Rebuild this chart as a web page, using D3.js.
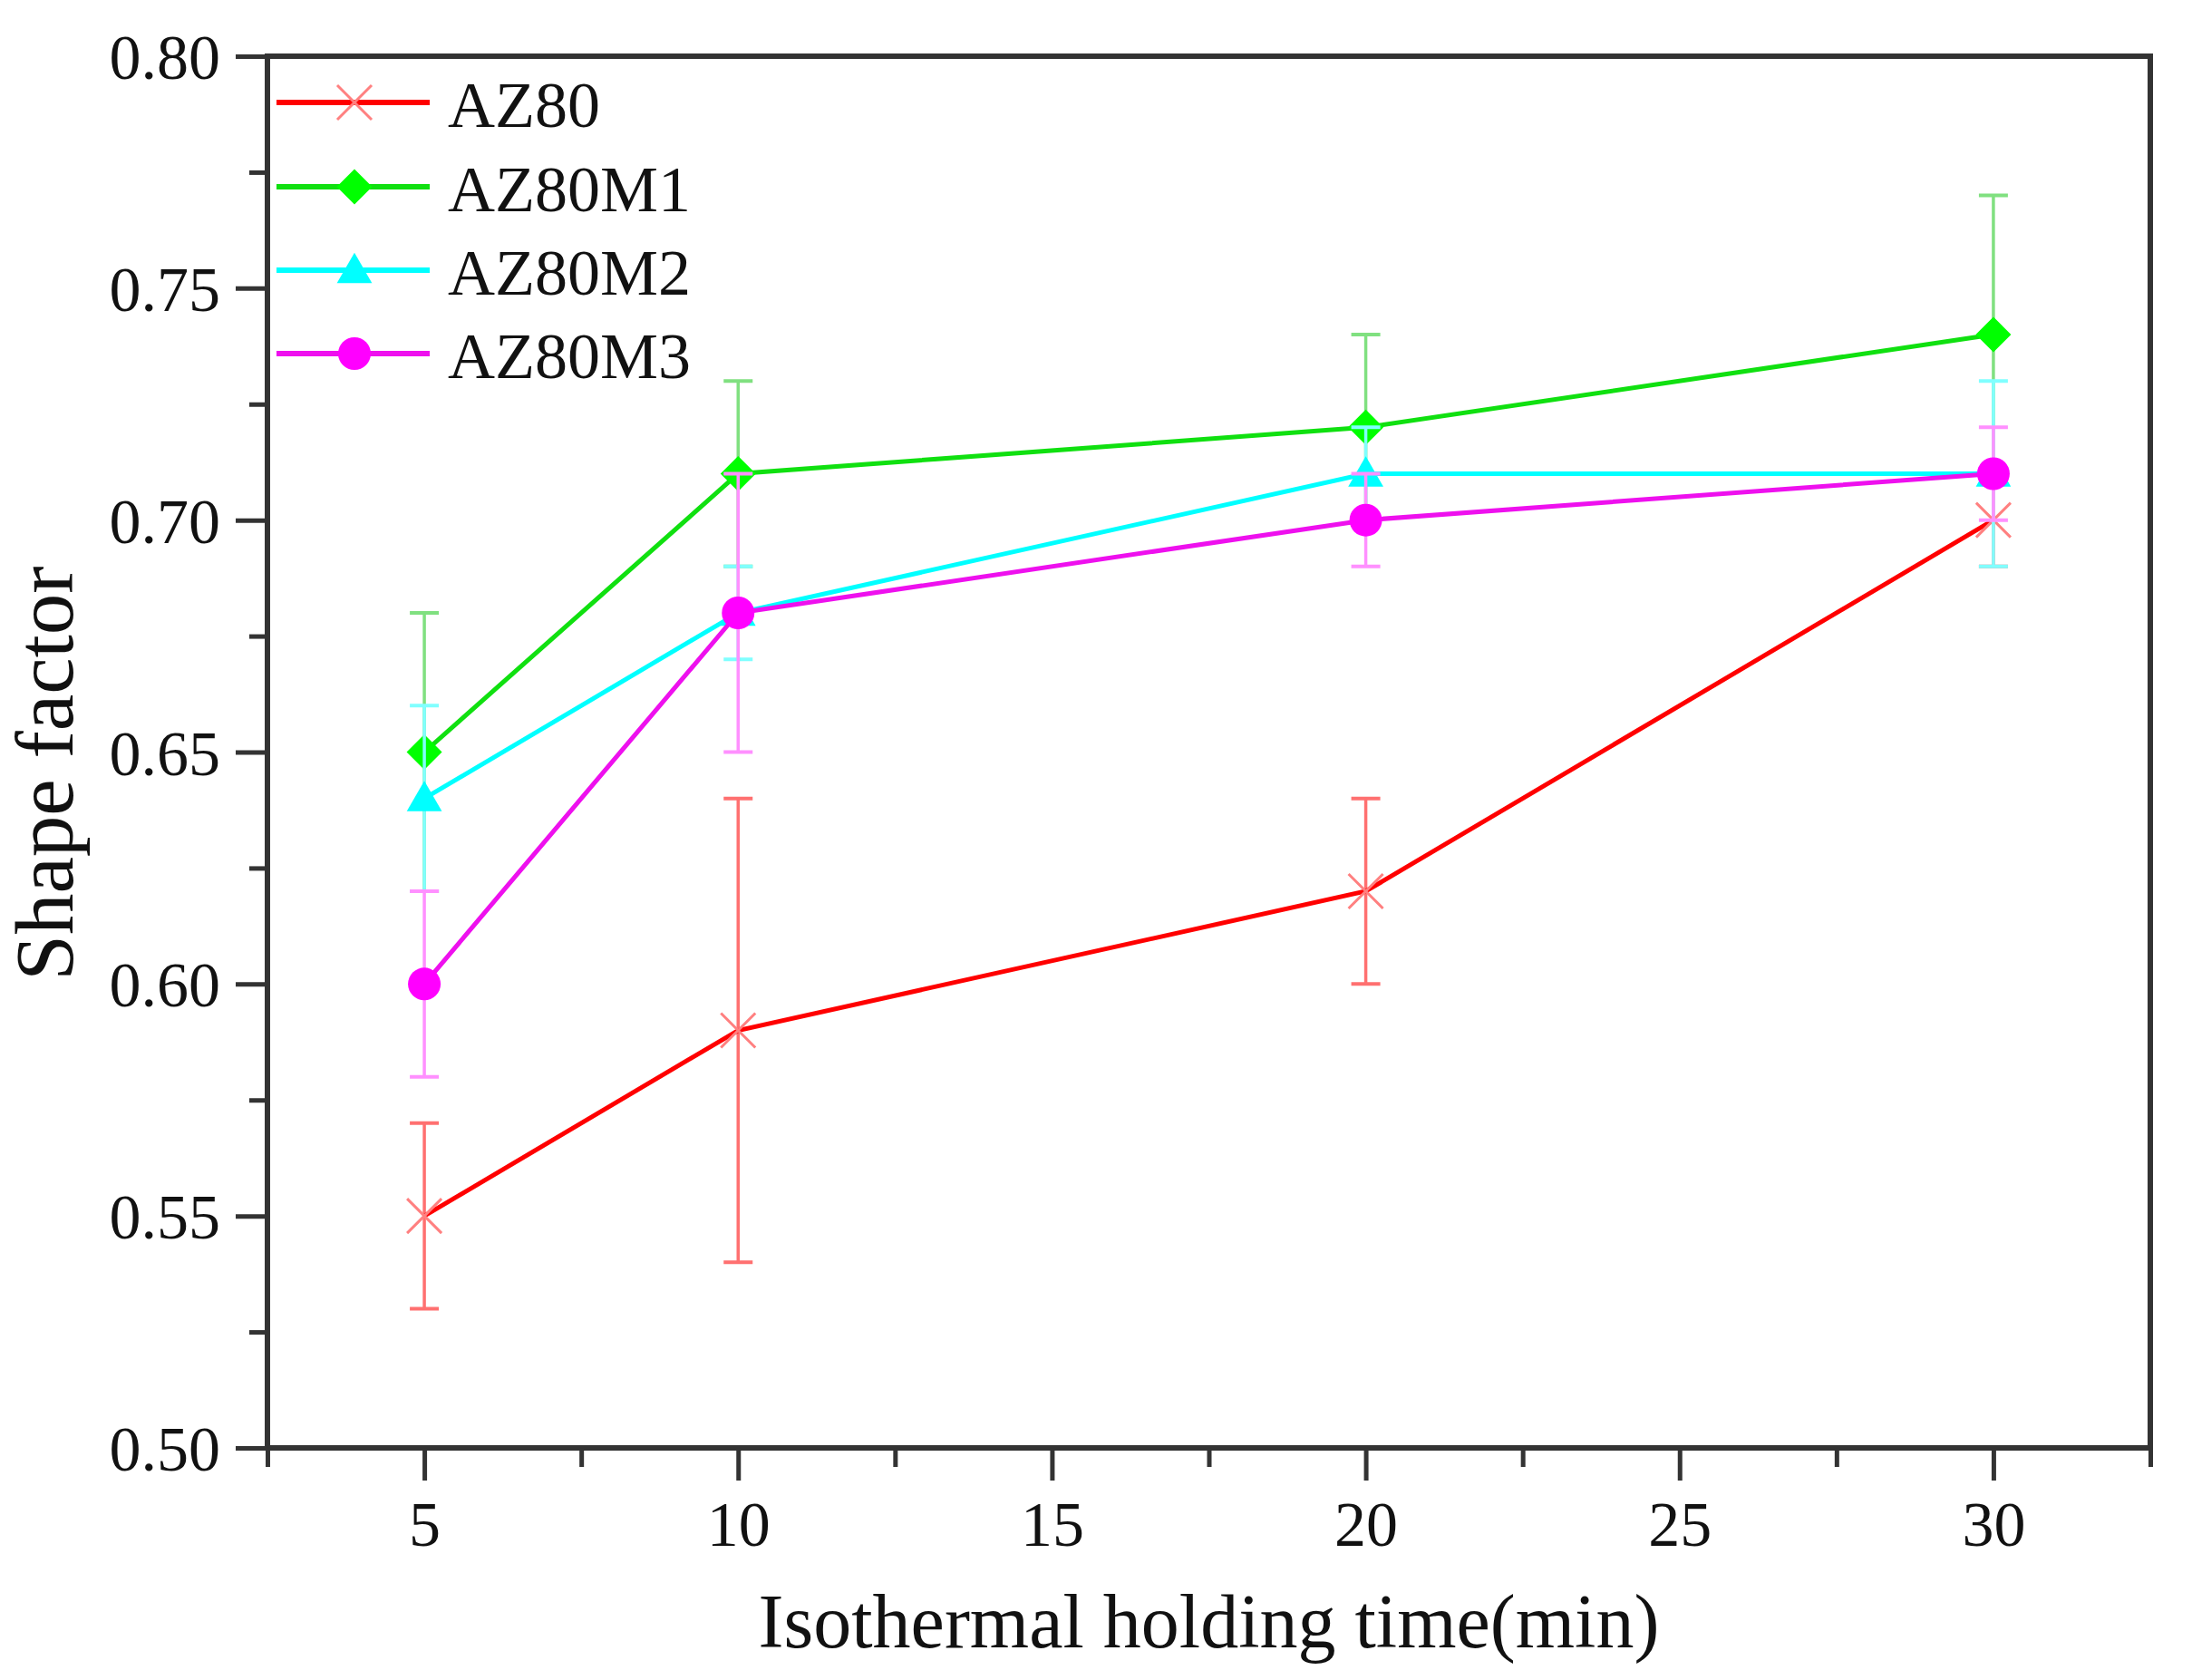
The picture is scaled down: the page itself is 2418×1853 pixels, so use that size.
<!DOCTYPE html>
<html>
<head>
<meta charset="utf-8">
<script src="https://cdn.jsdelivr.net/npm/d3@7"></script>
<style>
  body { margin: 0; background: #fff; }
  text { font-family: "Liberation Serif", "Times New Roman", serif; fill: #111; }
</style>
</head>
<body>
<div id="chart"></div>
<script>
// data
var times = [5, 10, 20, 30];
var seriesNames = ["AZ80", "AZ80M1", "AZ80M2", "AZ80M3"];
var az80 = [0.55, 0.59, 0.62, 0.70];
var az80Err = [0.02, 0.05, 0.02, 0.01];
var az80m1 = [0.65, 0.71, 0.72, 0.74];
var az80m1Err = [0.03, 0.02, 0.02, 0.03];
var az80m2 = [0.64, 0.68, 0.71, 0.71];
var az80m2Err = [0.02, 0.01, 0.01, 0.02];
var az80m3 = [0.60, 0.68, 0.70, 0.71];
var az80m3Err = [0.02, 0.03, 0.01, 0.01];
var xMajorTicks = [5, 10, 15, 20, 25, 30];
var xMinorTicks = [2.5, 7.5, 12.5, 17.5, 22.5, 27.5, 32.5];
var yMajorTicks = [0.50, 0.55, 0.60, 0.65, 0.70, 0.75, 0.80];
var yMinorTicks = [0.525, 0.575, 0.625, 0.675, 0.725, 0.775];

var svgWidth = 2418;
var svgHeight = 1853;

var plotLeft = 295, plotRight = 2372, plotTop = 62, plotBottom = 1597;

var svg = d3.select("#chart")
    .append("svg")
    .attr("width", svgWidth)
    .attr("height", svgHeight);

svg.append("rect")
    .attr("width", svgWidth)
    .attr("height", svgHeight)
    .attr("fill", "#fff");

var xScale = d3.scaleLinear().domain([2.5, 32.5]).range([plotLeft, plotRight]);
var yScale = d3.scaleLinear().domain([0.5, 0.8]).range([plotBottom, plotTop]);

var styles = [
    { color: "#ff0000", line: "#ff0000", err: "#ff7070", shape: "x" },
    { color: "#00ff00", line: "#10e010", err: "#80e080", shape: "diamond" },
    { color: "#00ffff", line: "#00ffff", err: "#80ffff", shape: "triangle" },
    { color: "#ff00ff", line: "#ee10ee", err: "#ff90ff", shape: "circle" }
];

var series = [
    { name: seriesNames[0], values: az80, errs: az80Err },
    { name: seriesNames[1], values: az80m1, errs: az80m1Err },
    { name: seriesNames[2], values: az80m2, errs: az80m2Err },
    { name: seriesNames[3], values: az80m3, errs: az80m3Err }
];

// axes
var xMajor = d3.axisBottom(xScale).tickValues(xMajorTicks).tickSize(36).tickFormat(d3.format("d"));
var xMinor = d3.axisBottom(xScale).tickValues(xMinorTicks).tickSize(21).tickFormat("");
var yMajor = d3.axisLeft(yScale).tickValues(yMajorTicks).tickSize(35).tickFormat(d3.format(".2f"));
var yMinor = d3.axisLeft(yScale).tickValues(yMinorTicks).tickSize(20).tickFormat("");

function styleAxis(g) {
    g.select(".domain").remove();
    g.selectAll(".tick line").attr("stroke", "#333").attr("stroke-width", 5);
}

var gx = svg.append("g").attr("transform", `translate(0, ${plotBottom})`).call(xMajor).call(styleAxis);
gx.selectAll("text")
    .attr("y", 83)
    .attr("dy", "0.35em")
    .attr("font-size", "70px")
    .style("font-family", "Liberation Serif, serif")
    .attr("fill", "#111");
svg.append("g").attr("transform", `translate(0, ${plotBottom})`).call(xMinor).call(styleAxis);

var gy = svg.append("g").attr("transform", `translate(${plotLeft}, 0)`).call(yMajor).call(styleAxis);
gy.selectAll("text")
    .attr("x", -52)
    .attr("dy", "0.35em")
    .attr("font-size", "70px")
    .style("font-family", "Liberation Serif, serif")
    .attr("fill", "#111");
svg.append("g").attr("transform", `translate(${plotLeft}, 0)`).call(yMinor).call(styleAxis);

// frame
svg.append("rect")
    .attr("x", plotLeft)
    .attr("y", plotTop)
    .attr("width", plotRight - plotLeft)
    .attr("height", plotBottom - plotTop)
    .attr("fill", "none")
    .attr("stroke", "#333")
    .attr("stroke-width", 6);

// markers
function drawMarker(g, shape, color, cx, cy) {
    if (shape === "x") {
        g.append("path")
            .attr("d", d3.symbol().type(d3.symbolTimes).size(944)())
            .attr("transform", `translate(${cx}, ${cy})`)
            .attr("fill", "none")
            .attr("stroke", "#ff8080")
            .attr("stroke-width", 3);
    } else if (shape === "diamond") {
        g.append("path")
            .attr("d", d3.symbol().type(d3.symbolSquare).size(760)())
            .attr("transform", `translate(${cx}, ${cy}) rotate(45)`)
            .attr("fill", color);
    } else if (shape === "triangle") {
        g.append("path")
            .attr("d", d3.symbol().type(d3.symbolTriangle).size(650)())
            .attr("transform", `translate(${cx}, ${cy + 3})`)
            .attr("fill", color);
    } else {
        g.append("circle")
            .attr("cx", cx)
            .attr("cy", cy)
            .attr("r", 18)
            .attr("fill", color);
    }
}

var line = d3.line()
    .x((d, i) => xScale(times[i]))
    .y(d => yScale(d));

var plot = svg.append("g");

series.forEach(function (s, k) {
    var st = styles[k];
    var g = plot.append("g");

    // error bars
    s.values.forEach(function (v, i) {
        var cx = xScale(times[i]);
        var y1 = yScale(v + s.errs[i]);
        var y2 = yScale(v - s.errs[i]);
        g.append("line")
            .attr("x1", cx).attr("x2", cx)
            .attr("y1", y1).attr("y2", y2)
            .attr("stroke", st.err)
            .attr("stroke-width", 3.5);
        [y1, y2].forEach(function (yy) {
            g.append("line")
                .attr("x1", cx - 16).attr("x2", cx + 16)
                .attr("y1", yy).attr("y2", yy)
                .attr("stroke", st.err)
                .attr("stroke-width", 4);
        });
    });

    g.append("path")
        .datum(s.values)
        .attr("d", line)
        .attr("fill", "none")
        .attr("stroke", st.line)
        .attr("stroke-width", 5);

    s.values.forEach(function (v, i) {
        drawMarker(g, st.shape, st.color, xScale(times[i]), yScale(v));
    });
});

// legend
var legendY = [113, 206, 298, 390];
var legend = svg.append("g");
series.forEach(function (s, k) {
    var st = styles[k];
    var yy = legendY[k];
    legend.append("line")
        .attr("x1", 305).attr("x2", 474)
        .attr("y1", yy).attr("y2", yy)
        .attr("stroke", st.line)
        .attr("stroke-width", 6);
    drawMarker(legend, st.shape, st.color, 391, yy);
    legend.append("text")
        .attr("x", 494)
        .attr("y", yy)
        .attr("dy", "0.38em")
        .attr("font-size", "72px")
        .text(s.name);
});

// axis titles
svg.append("text")
    .attr("x", (plotLeft + plotRight) / 2)
    .attr("y", 1817)
    .attr("text-anchor", "middle")
    .attr("font-size", "84px")
    .text("Isothermal holding time(min)");

svg.append("text")
    .attr("transform", `translate(80, 853) rotate(-90)`)
    .attr("text-anchor", "middle")
    .attr("font-size", "91px")
    .text("Shape factor");
</script>
</body>
</html>
